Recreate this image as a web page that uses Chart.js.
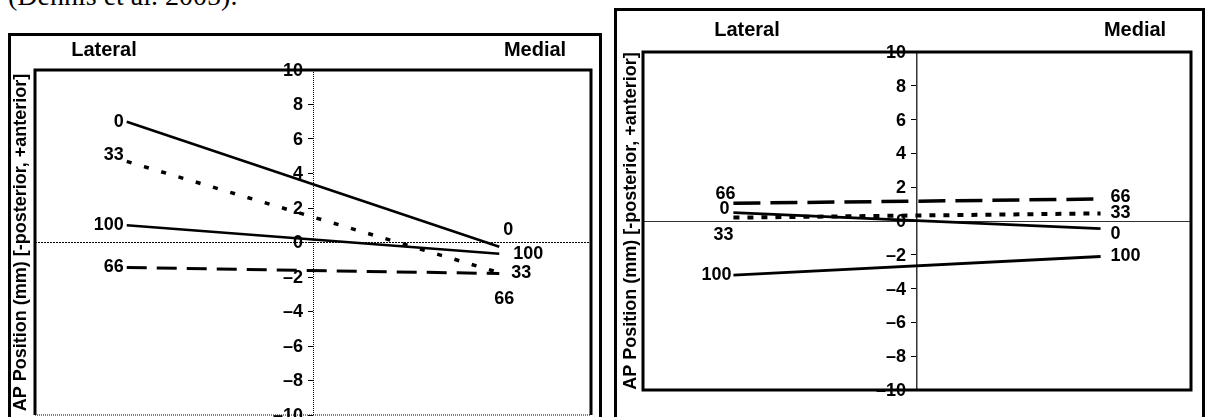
<!DOCTYPE html>
<html>
<head>
<meta charset="utf-8">
<script src="https://cdn.jsdelivr.net/npm/chart.js@4.4.1/dist/chart.umd.min.js"></script>
<style>
  html, body { margin: 0; padding: 0; background: #fff; overflow: hidden; }
  body { width: 1210px; height: 417px; position: relative; }
  .cite { position: absolute; left: 8px; top: -18px; font: 28px "Liberation Serif", "Times New Roman", serif; line-height: 27px; color: #000; white-space: nowrap; }
  .box { position: absolute; border: 3px solid #000; box-sizing: border-box; background: #fff; }
  #boxL { left: 8px; top: 33px; width: 594px; height: 415px; }
  #boxR { left: 614px; top: 8px; width: 591px; height: 420px; }
  canvas { display: block; }
</style>
</head>
<body>
<div class="cite">(Dennis et al. 2005).</div>
<div class="box" id="boxL"><canvas id="chartL" width="588" height="409"></canvas></div>
<div class="box" id="boxR"><canvas id="chartR" width="585" height="414"></canvas></div>
<script>
// positions along the condyle: lateral, medial
const xPos = [-0.67, 0.67];
const seriesNames = ['0', '33', '66', '100'];
const yTicks = { min: -10, max: 10, step: 2 };
const yTitle = 'AP Position (mm) [-posterior, +anterior]';
const sideNames = ['Lateral', 'Medial'];

// left chart, AP position at lateral / medial
const left0 = [7.0, -0.25];
const left33 = [4.7, -1.75];
const left66 = [-1.45, -1.8];
const left100 = [1.0, -0.65];

// right chart
const right0 = [0.5, -0.45];
const right33 = [0.2, 0.45];
const right66 = [1.05, 1.3];
const right100 = [-3.2, -2.1];

const SANS = '"Liberation Sans", Arial, sans-serif';

function pts(vals) {
  return vals.map(function(v, i) { return { x: xPos[i], y: v }; });
}

function fmtTick(v) {
  return v < 0 ? '\u2013' + Math.abs(v) : '' + v;
}

var stylesL = {
  '0': { borderWidth: 2.6, borderDash: [] },
  '33': { borderWidth: 3.5, borderDash: [5, 13] },
  '66': { borderWidth: 3, borderDash: [20, 10] },
  '100': { borderWidth: 2.6, borderDash: [] }
};
var stylesR = {
  '0': { borderWidth: 2.8, borderDash: [] },
  '33': { borderWidth: 4, borderDash: [6, 8] },
  '66': { borderWidth: 3.5, borderDash: [27, 10] },
  '100': { borderWidth: 2.8, borderDash: [] }
};

var decor = {
  id: 'decor',
  beforeDatasetsDraw: function(chart, args, o) {
    var ctx = chart.ctx, a = chart.chartArea;
    var ys = chart.scales.y, x0 = chart.scales.x.getPixelForValue(0);
    ctx.save();
    if (o.dottedAxis) {
      ctx.strokeStyle = '#000';
      ctx.lineWidth = 1;
      ctx.setLineDash([1, 1]);
      ctx.beginPath();
      ctx.moveTo(x0 + 0.5, a.top);
      ctx.lineTo(x0 + 0.5, a.bottom);
      ctx.stroke();
    }
    // tick labels, left of the centred axis
    ctx.setLineDash([]);
    ctx.fillStyle = '#000';
    ctx.font = 'bold 18px ' + SANS;
    ctx.textAlign = 'right';
    ctx.textBaseline = 'middle';
    ys.ticks.forEach(function(t) {
      ctx.fillText(fmtTick(t.value), x0 - o.tickGap, ys.getPixelForValue(t.value) + 1);
    });
    // frame
    ctx.strokeStyle = '#000';
    ctx.lineWidth = 3;
    ctx.beginPath();
    ctx.moveTo(a.left, a.bottom);
    ctx.lineTo(a.left, a.top);
    ctx.lineTo(a.right, a.top);
    ctx.lineTo(a.right, a.bottom);
    if (!o.dottedBottom) ctx.closePath();
    ctx.stroke();
    if (o.dottedBottom) {
      ctx.lineWidth = 1;
      ctx.setLineDash([1, 1]);
      ctx.beginPath();
      ctx.moveTo(a.left, a.bottom);
      ctx.lineTo(a.right, a.bottom);
      ctx.stroke();
    }
    ctx.restore();
  },
  afterDatasetsDraw: function(chart, args, o) {
    var ctx = chart.ctx, a = chart.chartArea;
    ctx.save();
    ctx.fillStyle = '#000';
    ctx.textBaseline = 'middle';
    // Lateral / Medial
    ctx.font = 'bold 20px ' + SANS;
    ctx.textAlign = 'center';
    ctx.fillText(sideNames[0], a.left + o.sideLeft, a.top + o.sideY);
    ctx.fillText(sideNames[1], a.right - o.sideRight, a.top + o.sideY);
    // y title
    ctx.font = 'bold 18px ' + SANS;
    ctx.save();
    ctx.translate(a.left - o.titleX, (a.top + a.bottom) / 2);
    ctx.rotate(-Math.PI / 2);
    ctx.fillText(yTitle, 0, 0);
    ctx.restore();
    // series labels at both ends
    ctx.font = 'bold 18px ' + SANS;
    chart.data.datasets.forEach(function(ds, i) {
      var p = chart.getDatasetMeta(i).data;
      [[p[0], ds.startLabel], [p[p.length - 1], ds.endLabel]].forEach(function(e) {
        ctx.textAlign = e[1].align;
        ctx.fillText(ds.label, e[0].x + e[1].dx, e[0].y + e[1].dy);
      });
    });
    ctx.restore();
  }
};

function makeChart(id, values, styles, labelPos, opts) {
  var datasets = seriesNames.map(function(name, i) {
    var st = styles[name];
    return {
      label: name,
      data: pts(values[i]),
      borderColor: '#000',
      borderWidth: st.borderWidth,
      borderDash: st.borderDash,
      pointRadius: 0,
      tension: 0,
      fill: false,
      startLabel: labelPos[i][0],
      endLabel: labelPos[i][1]
    };
  });
  return new Chart(document.getElementById(id), {
    type: 'line',
    data: { datasets: datasets },
    options: {
      responsive: false,
      animation: false,
      layout: { padding: opts.padding },
      scales: {
        x: { type: 'linear', min: -1, max: 1, display: false },
        y: {
          type: 'linear',
          min: yTicks.min,
          max: yTicks.max,
          position: { x: 0 },
          ticks: { stepSize: yTicks.step, display: false },
          grid: {
            drawOnChartArea: true,
            color: function(c) { return c.tick && c.tick.value === 0 ? opts.zeroColor : 'rgba(0,0,0,0)'; },
            lineWidth: 1,
            tickLength: 5,
            tickColor: '#000',
            tickWidth: 1
          },
          border: { display: !opts.decor.dottedAxis, color: '#333', width: 1.5, dash: opts.zeroDash }
        }
      },
      plugins: {
        legend: { display: false },
        tooltip: { enabled: false },
        decor: opts.decor
      }
    },
    plugins: [decor]
  });
}

makeChart('chartL', [left0, left33, left66, left100], stylesL, [
  [{ dx: -3, dy: 0, align: 'right' }, { dx: 4, dy: -17, align: 'left' }],
  [{ dx: -3, dy: -6, align: 'right' }, { dx: 12, dy: 0, align: 'left' }],
  [{ dx: -3, dy: 0, align: 'right' }, { dx: -5, dy: 25, align: 'left' }],
  [{ dx: -3, dy: 0, align: 'right' }, { dx: 14, dy: 0, align: 'left' }]
], {
  padding: { left: 24, right: 8, top: 34, bottom: 30 },
  zeroColor: '#000',
  zeroDash: [2, 1],
  decor: { dottedAxis: true, dottedBottom: true, tickGap: 10, sideLeft: 69, sideRight: 56, sideY: -20, titleX: 14 }
});

makeChart('chartR', [right0, right33, right66, right100], stylesR, [
  [{ dx: -4, dy: -4, align: 'right' }, { dx: 10, dy: 5, align: 'left' }],
  [{ dx: 0, dy: 17, align: 'right' }, { dx: 10, dy: 0, align: 'left' }],
  [{ dx: 2, dy: -9, align: 'right' }, { dx: 10, dy: -2, align: 'left' }],
  [{ dx: -2, dy: 0, align: 'right' }, { dx: 10, dy: 0, align: 'left' }]
], {
  padding: { left: 26, right: 11, top: 41, bottom: 35 },
  zeroColor: '#333',
  zeroDash: [],
  decor: { dottedAxis: false, dottedBottom: false, tickGap: 11, sideLeft: 104, sideRight: 56, sideY: -22, titleX: 12 }
});
</script>
</body>
</html>
